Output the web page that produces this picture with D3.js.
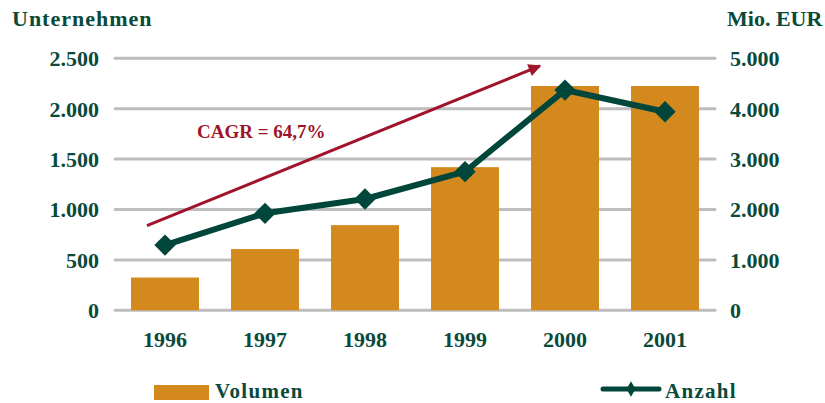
<!DOCTYPE html>
<html>
<head>
<meta charset="utf-8">
<script src="https://cdn.jsdelivr.net/npm/d3@7"></script>
<style>
  body { margin: 0; background: #fff; }
  text { font-family: "Liberation Serif", "Times New Roman", serif; font-weight: bold; }
</style>
</head>
<body>
<svg id="chart" width="825" height="403"></svg>
<script>

var years = ["1996", "1997", "1998", "1999", "2000", "2001"];
var volumen = [650, 1215, 1690, 2840, 4450, 4450];   // Mio. EUR, right axis
var anzahl = [647, 962, 1104, 1375, 2185, 1970];     // Unternehmen, left axis
var leftTicks = [0, 500, 1000, 1500, 2000, 2500];
var rightTicks = [0, 1000, 2000, 3000, 4000, 5000];

// CAGR arrow, given as [category index, Unternehmen]
var cagrFrom = [-0.18, 840];
var cagrTo = [3.75, 2425];
var cagrLabel = "CAGR = 64,7%";
var cagrAt = [0.32, 1710];

var green = "#0a4a3a";
var lineGreen = "#00463a";
var orange = "#d4891e";
var red = "#a0132b";

var svg = d3.select("#chart");

var x = d3.scaleBand()
  .domain(years)
  .range([115, 715])
  .paddingInner(0.32)
  .paddingOuter(0.16);

// index -> center of the band
var xi = d3.scaleLinear()
  .domain([0, 1])
  .range([x("1996") + x.bandwidth() / 2, x("1997") + x.bandwidth() / 2]);

var yL = d3.scaleLinear().domain([0, 2500]).range([310.3, 58.3]);
var yR = d3.scaleLinear().domain([0, 5000]).range([310.3, 58.3]);

/* gridlines */
svg.append("g")
  .selectAll("line")
  .data(leftTicks)
  .join("line")
  .attr("x1", 115)
  .attr("x2", 715)
  .attr("y1", d => yL(d))
  .attr("y2", d => yL(d))
  .attr("stroke", "#bdbdbd")
  .attr("stroke-width", 3)
  .attr("stroke-linecap", "round");

/* axes, only the labels are kept */
var leftAxis = svg.append("g")
  .attr("transform", "translate(99,0)")
  .call(d3.axisLeft(yL).tickValues(leftTicks).tickSize(0).tickPadding(0)
    .tickFormat(d => d3.format(",")(d).replace(/,/g, ".")));

var rightAxis = svg.append("g")
  .attr("transform", "translate(730,0)")
  .call(d3.axisRight(yR).tickValues(rightTicks).tickSize(0).tickPadding(0)
    .tickFormat(d => d3.format(",")(d).replace(/,/g, ".")));

var bottomAxis = svg.append("g")
  .attr("transform", "translate(0,331)")
  .call(d3.axisBottom(x).tickSize(0).tickPadding(0));

svg.selectAll(".domain").remove();
svg.selectAll(".tick text")
  .attr("fill", green)
  .attr("font-family", "Liberation Serif, serif")
  .attr("font-weight", "bold")
  .attr("font-size", 22);
leftAxis.selectAll(".tick text").attr("dy", "0.34em");
rightAxis.selectAll(".tick text").attr("dy", "0.34em");
bottomAxis.selectAll(".tick text").attr("dy", "0.71em");

/* bars */
svg.append("g")
  .selectAll("rect")
  .data(volumen)
  .join("rect")
  .attr("x", (d, i) => x(years[i]))
  .attr("width", x.bandwidth())
  .attr("y", d => yR(d))
  .attr("height", d => yR(0) - yR(d))
  .attr("fill", orange);

/* CAGR arrow */
svg.append("defs").append("marker")
  .attr("id", "head")
  .attr("viewBox", "0 0 10 10")
  .attr("refX", 9)
  .attr("refY", 5)
  .attr("markerWidth", 5.5)
  .attr("markerHeight", 4.2)
  .attr("markerUnits", "strokeWidth")
  .attr("orient", "auto")
  .append("path")
  .attr("d", "M0,0 L10,5 L0,10 z")
  .attr("fill", red);

svg.append("line")
  .attr("x1", xi(cagrFrom[0]))
  .attr("y1", yL(cagrFrom[1]))
  .attr("x2", xi(cagrTo[0]))
  .attr("y2", yL(cagrTo[1]))
  .attr("stroke", red)
  .attr("stroke-width", 3)
  .attr("marker-end", "url(#head)");

svg.append("text")
  .attr("x", xi(cagrAt[0]))
  .attr("y", yL(cagrAt[1]))
  .attr("fill", red)
  .attr("font-size", 19)
  .text(cagrLabel);

/* Anzahl line */
var lineGenerator = d3.line()
  .x((d, i) => x(years[i]) + x.bandwidth() / 2)
  .y(d => yL(d));

svg.append("path")
  .attr("d", lineGenerator(anzahl))
  .attr("fill", "none")
  .attr("stroke", lineGreen)
  .attr("stroke-width", 6)
  .attr("stroke-linejoin", "round");

svg.append("g")
  .selectAll("path")
  .data(anzahl)
  .join("path")
  .attr("transform", (d, i) => "translate(" + (x(years[i]) + x.bandwidth() / 2) + "," + yL(d) + ")")
  .attr("d", d3.symbol().type(d3.symbolDiamond2).size(290))
  .attr("fill", lineGreen);

/* titles */
svg.append("text")
  .attr("x", 12)
  .attr("y", 26)
  .attr("fill", green)
  .attr("font-size", 22)
  .attr("letter-spacing", 1)
  .text("Unternehmen");

svg.append("text")
  .attr("x", 727)
  .attr("y", 26)
  .attr("fill", green)
  .attr("font-size", 22)
  .text("Mio. EUR");

/* legend */
svg.append("rect")
  .attr("x", 154)
  .attr("y", 385)
  .attr("width", 55)
  .attr("height", 15)
  .attr("fill", orange);

svg.append("text")
  .attr("x", 215)
  .attr("y", 398)
  .attr("fill", green)
  .attr("font-size", 21)
  .attr("letter-spacing", 1.3)
  .text("Volumen");

svg.append("line")
  .attr("x1", 603)
  .attr("x2", 659)
  .attr("y1", 389)
  .attr("y2", 389)
  .attr("stroke", lineGreen)
  .attr("stroke-width", 5)
  .attr("stroke-linecap", "round");

svg.append("path")
  .attr("transform", "translate(631,389)")
  .attr("d", d3.symbol().type(d3.symbolDiamond).size(70))
  .attr("fill", lineGreen);

svg.append("text")
  .attr("x", 665)
  .attr("y", 398)
  .attr("fill", green)
  .attr("font-size", 21)
  .attr("letter-spacing", 1.3)
  .text("Anzahl");

</script>
</body>
</html>
